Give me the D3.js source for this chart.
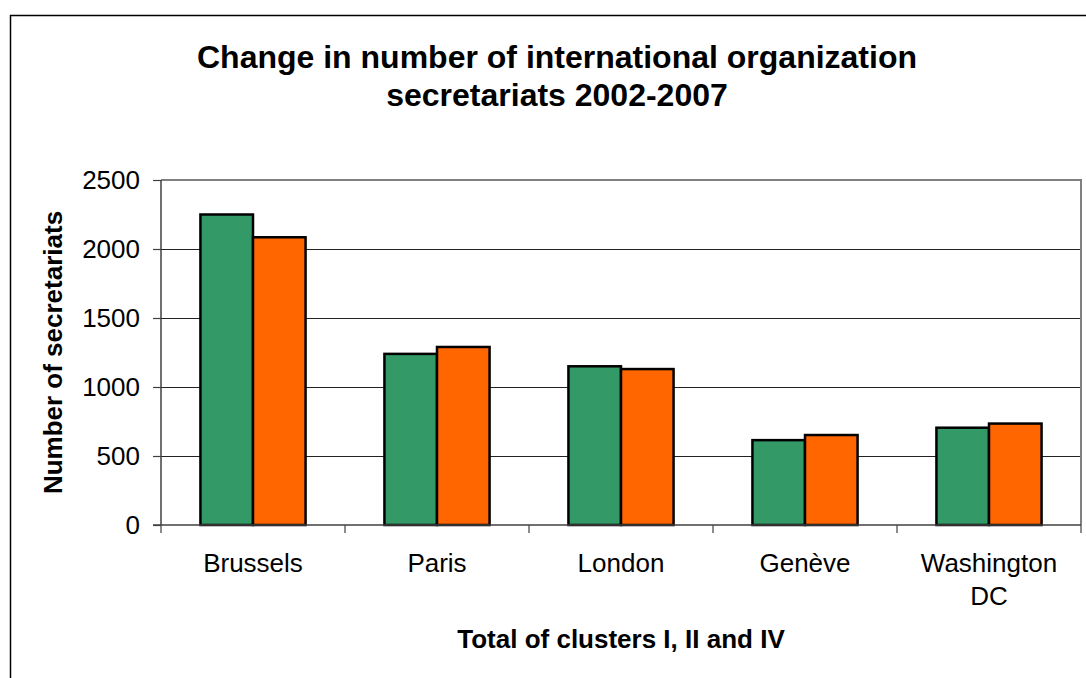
<!DOCTYPE html>
<html>
<head>
<meta charset="utf-8">
<script src="https://cdn.jsdelivr.net/npm/d3@7"></script>
<style>
  html, body { margin: 0; padding: 0; background: #fff; }
  svg { display: block; font-family: Arial, "Liberation Sans", sans-serif; }
</style>
</head>
<body>
<svg id="chart" width="1086" height="678"></svg>
<script>
// ---- data ----
const categories = ["Brussels", "Paris", "London", "Genève", "Washington DC"];
const seriesNames = ["2002", "2007"];
const values2002 = [2250, 1240, 1150, 615, 705];
const values2007 = [2085, 1290, 1130, 652, 735];
const yTicks = [0, 500, 1000, 1500, 2000, 2500];
const titleLines = ["Change in number of international organization", "secretariats 2002-2007"];
const yTitle = "Number of secretariats";
const xTitle = "Total of clusters I, II and IV";
const colors = ["#339966", "#FF6600"];

// ---- layout ----
const svg = d3.select("#chart");
const plot = { left: 161, right: 1081, top: 180, bottom: 525 };

// outer frame
svg.append("path")
  .attr("d", `M10.5,690 L10.5,15.5 L1100,15.5`)
  .attr("fill", "none").attr("stroke", "#000").attr("stroke-width", 1.5);

const x0 = d3.scaleBand().domain(categories).range([plot.left, plot.right]).padding(0);
const x1 = d3.scaleBand().domain(seriesNames).range([0, x0.bandwidth()]).paddingInner(0).paddingOuter(0.75);
const y = d3.scaleLinear().domain([0, 2500]).range([plot.bottom, plot.top]);

// gridlines
svg.append("g").selectAll("line").data(yTicks.filter(t => t > 0 && t < 2500)).join("line")
  .attr("x1", plot.left).attr("x2", plot.right)
  .attr("y1", d => Math.round(y(d)) + 0.5).attr("y2", d => Math.round(y(d)) + 0.5)
  .attr("stroke", "#222").attr("stroke-width", 1);

// plot area border (top & right, gray)
svg.append("path")
  .attr("d", `M${plot.left},${plot.top} L${plot.right},${plot.top} L${plot.right},${plot.bottom}`)
  .attr("fill", "none").attr("stroke", "#808080").attr("stroke-width", 2);

// bars
const data = categories.map((c, i) => ({ cat: c, vals: [values2002[i], values2007[i]] }));
const groups = svg.append("g").selectAll("g").data(data).join("g")
  .attr("transform", d => `translate(${x0(d.cat)},0)`);
groups.selectAll("rect").data(d => d.vals.map((v, j) => ({ s: seriesNames[j], v, j }))).join("rect")
  .attr("x", d => x1(d.s))
  .attr("y", d => y(d.v))
  .attr("width", x1.bandwidth())
  .attr("height", d => y(0) - y(d.v))
  .attr("fill", d => colors[d.j])
  .attr("stroke", "#000").attr("stroke-width", 2.5);

// y axis
const yAxis = d3.axisLeft(y).tickValues(yTicks).tickSize(8).tickPadding(13).tickFormat(d3.format("d"));
const gy = svg.append("g").attr("transform", `translate(${plot.left},0)`).call(yAxis);
gy.select(".domain").attr("stroke", "#404040").attr("stroke-width", 1.5).attr("d", `M0,${plot.top}V${plot.bottom}`);
gy.selectAll(".tick line").attr("stroke", "#404040").attr("stroke-width", 1.2);
gy.selectAll(".tick text").attr("font-size", 26).attr("fill", "#000")
  .attr("font-family", "Arial, 'Liberation Sans', sans-serif");

// x axis
const boundaries = d3.range(categories.length + 1).map(i => plot.left + i * x0.step());
svg.append("line").attr("x1", plot.left - 8).attr("x2", plot.right)
  .attr("y1", plot.bottom).attr("y2", plot.bottom)
  .attr("stroke", "#404040").attr("stroke-width", 1.5);
svg.append("g").selectAll("line").data(boundaries).join("line")
  .attr("x1", d => d).attr("x2", d => d)
  .attr("y1", plot.bottom).attr("y2", plot.bottom + 8)
  .attr("stroke", "#404040").attr("stroke-width", 1.2);

// category labels
const catLabels = svg.append("g").selectAll("text").data(categories).join("text")
  .attr("x", d => x0(d) + x0.bandwidth() / 2)
  .attr("y", 572)
  .attr("text-anchor", "middle")
  .attr("font-size", 26).attr("fill", "#000");
catLabels.each(function(d) {
  const words = d === "Washington DC" ? ["Washington", "DC"] : [d];
  const t = d3.select(this);
  words.forEach((w, i) => {
    t.append("tspan").attr("x", x0(d) + x0.bandwidth() / 2).attr("dy", i === 0 ? 0 : 33).text(w);
  });
});

// titles
svg.append("text").attr("x", 557).attr("y", 68).attr("text-anchor", "middle")
  .attr("font-size", 32).attr("font-weight", "bold").text(titleLines[0]);
svg.append("text").attr("x", 557).attr("y", 106).attr("text-anchor", "middle")
  .attr("font-size", 32).attr("font-weight", "bold").text(titleLines[1]);

svg.append("text")
  .attr("transform", `translate(62,${(plot.top + plot.bottom) / 2}) rotate(-90)`)
  .attr("text-anchor", "middle")
  .attr("font-size", 26).attr("font-weight", "bold").text(yTitle);

svg.append("text").attr("x", 621).attr("y", 648).attr("text-anchor", "middle")
  .attr("font-size", 26).attr("font-weight", "bold").text(xTitle);
</script>
</body>
</html>
